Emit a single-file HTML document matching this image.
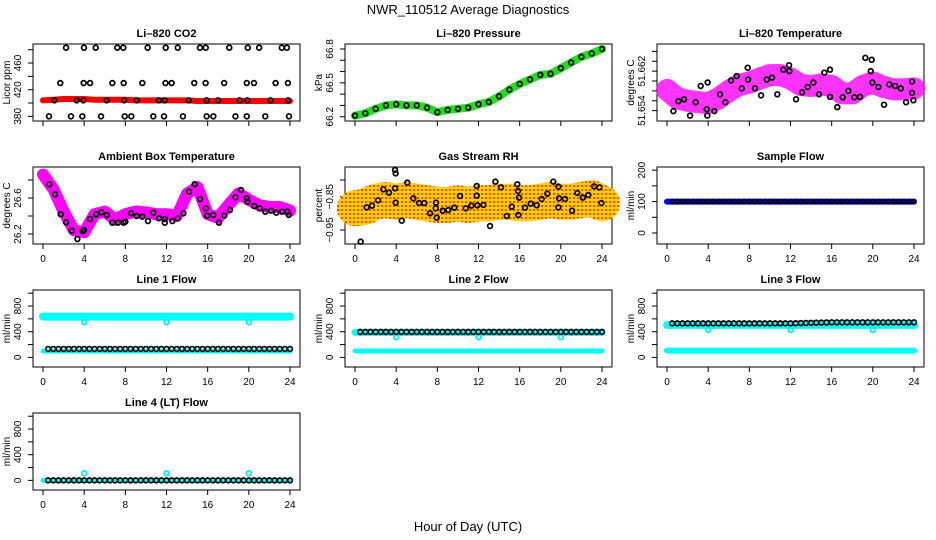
<!DOCTYPE html>
<html><head><meta charset="utf-8"><style>
html,body{margin:0;padding:0;background:#fff;}
svg{display:block;font-family:"Liberation Sans",Arial,sans-serif;}
</style></head><body>
<svg id="fig" width="936" height="540" viewBox="0 0 936 540" xmlns="http://www.w3.org/2000/svg">
<defs>
<pattern id="rhpat" width="4" height="4" patternUnits="userSpaceOnUse">
<rect width="4" height="4" fill="#ffd000"/><circle cx="2" cy="2" r="1" fill="#ee2200"/></pattern>
<clipPath id="row1clip"><rect x="0" y="0" width="936" height="132"/></clipPath>
</defs>
<text x="468" y="14" text-anchor="middle" font-size="13">NWR_110512  Average Diagnostics</text>
<text x="468" y="531" text-anchor="middle" font-size="13">Hour of Day (UTC)</text>
</svg>
<script>
// ---------- data ----------
const bandHours=[0,1,2,3,4,5,6,7,8,9,10,11,12,13,14,15,16,17,18,19,20,21,22,23,24];
const xTicks=[0,4,8,12,16,20,24];

const co2Hours=[2.24,3.98,5.12,7.22,7.80,10.17,11.92,13.09,15.25,15.81,18.1,19.9,21.0,23.2,23.7,
1.68,3.95,4.57,6.74,7.84,9.65,11.9,12.5,14.7,15.8,17.6,19.8,20.5,22.6,23.8,
1.1,3.27,3.92,6.19,7.87,9.1,11.25,11.83,14.16,15.9,17.0,19.1,19.85,22.1,23.8,
0.58,2.72,3.82,5.64,7.94,8.58,10.72,11.76,13.6,15.9,16.55,18.7,19.8,21.6,23.9];
const co2Vals=[483,483,483,483,483,483,483,483,483,483,483,483,483,483,483,
430,430,430,430,430,430,430,430,430,430,430,430,430,430,430,
404,404,404,404,404,404,404,404,404,404,404,404,404,404,404,
380,380,380,380,380,380,380,380,380,380,380,380,380,380,380];
const co2Band=[404,405,406,406,406,405,405,405,405,404,404,404,404,404,404,403,403,403,403,403,403,403,403,403,403];

const presBand=[66.21,66.23,66.27,66.30,66.31,66.30,66.30,66.28,66.24,66.26,66.27,66.28,66.31,66.33,66.38,66.44,66.49,66.53,66.57,66.58,66.63,66.68,66.73,66.76,66.80];

const tempBand=[51.6582,51.6565,51.6560,51.6557,51.6555,51.6565,51.6580,51.6592,51.6597,51.6605,51.6612,51.6612,51.6605,51.6592,51.6590,51.6593,51.6590,51.6575,51.6575,51.6590,51.6597,51.6588,51.6583,51.6583,51.6585];
const tempHours=[0.62,1.10,1.65,2.24,2.79,3.27,3.86,3.92,3.95,4.6,5.15,5.67,6.22,6.77,7.26,7.84,7.87,8.55,9.14,9.69,10.2,10.72,11.3,11.86,11.89,12.54,13.12,13.67,14.22,14.77,15.29,15.84,15.84,16.55,17.07,17.62,18.2,18.76,19.27,19.89,19.8,19.95,20.53,21.09,21.6,22.16,22.71,23.23,23.81,23.81,23.94];
const tempVals=[51.6539,51.6559,51.6563,51.6530,51.6557,51.6590,51.6543,51.6530,51.6597,51.6539,51.6573,51.6557,51.6601,51.6610,51.6585,51.6627,51.6603,51.6585,51.6571,51.6603,51.6607,51.6573,51.6623,51.6632,51.6620,51.6563,51.6577,51.6588,51.6597,51.6573,51.6617,51.6623,51.6568,51.6547,51.6567,51.6580,51.6567,51.6568,51.6647,51.6643,51.6620,51.6597,51.6588,51.6552,51.6593,51.6590,51.6585,51.6557,51.6599,51.6576,51.6561];

const ambBand=[26.86,26.70,26.45,26.24,26.22,26.42,26.45,26.36,26.42,26.45,26.44,26.42,26.42,26.40,26.65,26.72,26.42,26.38,26.52,26.65,26.58,26.52,26.50,26.50,26.46];
const ambHours=[0.61,1.17,1.72,2.24,2.79,3.34,3.85,3.98,4.57,5.15,5.67,6.19,6.74,7.29,7.84,8.0,8.55,9.1,9.65,10.2,10.72,11.27,11.83,11.83,12.57,13.09,13.64,14.19,14.74,15.26,15.81,15.94,16.55,17.1,17.62,18.17,18.69,19.24,19.8,19.86,20.5,21.06,21.6,22.16,22.67,23.23,23.74,23.88];
const ambVals=[26.752,26.641,26.419,26.330,26.237,26.144,26.233,26.244,26.367,26.419,26.441,26.411,26.326,26.326,26.326,26.337,26.430,26.400,26.393,26.344,26.437,26.374,26.367,26.326,26.344,26.374,26.430,26.670,26.752,26.589,26.485,26.404,26.411,26.326,26.404,26.467,26.607,26.689,26.596,26.559,26.511,26.485,26.448,26.459,26.437,26.448,26.448,26.411];

const rhBand=[-0.885,-0.88,-0.865,-0.86,-0.865,-0.86,-0.865,-0.87,-0.875,-0.875,-0.87,-0.875,-0.87,-0.87,-0.865,-0.865,-0.87,-0.87,-0.865,-0.86,-0.865,-0.865,-0.86,-0.855,-0.87];
const rhHours=[0.55,1.13,1.65,2.24,2.75,3.3,3.89,3.89,3.95,3.95,4.54,5.08,5.67,6.22,6.74,7.29,7.84,7.87,7.94,8.52,9.07,9.65,10.2,10.76,11.3,11.83,11.83,11.89,12.47,13.12,13.64,14.19,14.74,15.23,15.77,15.84,15.94,15.87,16.52,17.07,17.66,18.14,18.69,19.27,19.76,19.83,19.76,20.41,21.09,21.6,22.13,22.67,23.23,23.74,23.94];
const rhVals=[-0.985,-0.882,-0.877,-0.861,-0.828,-0.838,-0.825,-0.770,-0.780,-0.868,-0.922,-0.808,-0.855,-0.869,-0.869,-0.900,-0.885,-0.868,-0.913,-0.892,-0.890,-0.883,-0.848,-0.885,-0.877,-0.818,-0.847,-0.876,-0.875,-0.938,-0.805,-0.822,-0.908,-0.880,-0.813,-0.833,-0.853,-0.905,-0.883,-0.871,-0.876,-0.857,-0.841,-0.805,-0.882,-0.855,-0.820,-0.857,-0.892,-0.839,-0.853,-0.845,-0.819,-0.822,-0.869];

const flowHours=[0.5,1,1.5,2,2.5,3,3.5,4,4.5,5,5.5,6,6.5,7,7.5,8,8.5,9,9.5,10,10.5,11,11.5,12,12.5,13,13.5,14,14.5,15,15.5,16,16.5,17,17.5,18,18.5,19,19.5,20,20.5,21,21.5,22,22.5,23,23.5,24];
const sampleBlack=[100,100,100,100,100,100,100,100,100,100,100,100,100,100,100,100,100,100,100,100,100,100,100,100,100,100,100,100,100,100,100,100,100,100,100,100,100,100,100,100,100,100,100,100,100,100,100,100];
const sampleBand=[100,100,100,100,100,100,100,100,100,100,100,100,100,100,100,100,100,100,100,100,100,100,100,100,100];
const line1Black=[131,131,131,131,131,131,131,131,131,131,131,131,131,131,131,131,131,131,131,131,131,131,131,131,131,131,131,131,131,131,131,131,131,131,131,131,131,131,131,131,131,131,131,131,131,131,131,131];
const line1High=[636,636,636,636,636,636,636,636,636,636,636,636,636,636,636,636,636,636,636,636,636,636,636,636,636];
const line1Low=[100,100,100,100,100,100,100,100,100,100,100,100,100,100,100,100,100,100,100,100,100,100,100,100,100];
const line2Black=[397,397,397,397,397,397,397,397,397,397,397,397,397,397,397,397,397,397,397,397,397,397,397,397,397,397,397,397,397,397,397,397,397,397,397,397,397,397,397,397,397,397,397,397,397,397,397,397];
const line2High=[390,390,390,390,390,390,390,390,390,390,390,390,390,390,390,390,390,390,390,390,390,390,390,390,390];
const line2Low=[100,100,100,100,100,100,100,100,100,100,100,100,100,100,100,100,100,100,100,100,100,100,100,100,100];
const line3Black=[530,530,530,530,530,530,530,530,530,530,530,530,530,530,530,530,530,530,530,530,530,530,530,530,532,534,536,538,540,542,544,546,546,546,546,546,546,546,546,546,546,546,546,546,546,546,546,546];
const line3High=[506,506,506,506,506,506,506,506,506,506,506,506,506,506,506,506,506,506,506,506,506,506,506,506,506];
const line3Low=[105,105,105,105,105,105,105,105,105,105,105,105,105,105,105,105,105,105,105,105,105,105,105,105,105];
const line4Black=[0,0,0,0,0,0,0,0,0,0,0,0,0,0,0,0,0,0,0,0,0,0,0,0,0,0,0,0,0,0,0,0,0,0,0,0,0,0,0,0,0,0,0,0,0,0,0,0];
const line4Band=[0,0,0,0,0,0,0,0,0,0,0,0,0,0,0,0,0,0,0,0,0,0,0,0,0];
const dipHours=[4,12,20];
const line1Dips=[548,548,548];
const line2Dips=[314,314,314];
const line3Dips=[428,428,428];
const line4Spikes=[111,111,111];

// ---------- layout ----------
const NS="http://www.w3.org/2000/svg";
const svg=document.getElementById('fig');
const colX=[0,312,624], rowY=[44,167,290,413], BH=77;
function el(tag,attrs,parent){const e=document.createElementNS(NS,tag);for(const k in attrs)e.setAttribute(k,attrs[k]);(parent||svg).appendChild(e);return e;}

function makePanel(p){
  const g=el('g',{});
  
  
  const L=colX[p.col]+33,R=colX[p.col]+300,T=rowY[p.row],B=T+BH;
  p.xs=h=>colX[p.col]+43+h*247/24;
  p.ys=v=>T+(p.ylim[1]-v)/(p.ylim[1]-p.ylim[0])*BH;
  p.g=g;
  const t=el('text',{x:(L+R)/2,y:T-7,'text-anchor':'middle','font-size':11,'font-weight':'bold'},g);
  t.textContent=p.title;
  
  
  const box=el('rect',{x:L,y:T,width:R-L,height:BH,fill:'none',stroke:'#000','stroke-width':1},g);
  
  
  const xa=el('g',{},g);
  
  
  if(p.row===0) xa.setAttribute('clip-path','url(#row1clip)');
  el('line',{x1:p.xs(0),x2:p.xs(24),y1:B,y2:B,stroke:'#000'},xa);
  xTicks.forEach(h=>{
    el('line',{x1:p.xs(h),x2:p.xs(h),y1:B,y2:B+5,stroke:'#000'},xa);
    const tl=el('text',{x:p.xs(h),y:B+18,'text-anchor':'middle','font-size':10},xa);
    tl.textContent=h;
    
    
  });
  const ya=el('g',{},g);
  
  
  el('line',{x1:L,x2:L,y1:p.ys(p.ticks[0]),y2:p.ys(p.ticks[p.ticks.length-1]),stroke:'#000'},ya);
  p.ticks.forEach(v=>el('line',{x1:L-5,x2:L,y1:p.ys(v),y2:p.ys(v),stroke:'#000'},ya));
  p.labels.forEach((s,i)=>{
    const yy=p.ys(p.labelVals[i]),xx=colX[p.col]+21;
    const tl=el('text',{x:xx,y:yy,'text-anchor':'middle','font-size':10,transform:`rotate(-90 ${xx} ${yy})`},ya);
    tl.textContent=s;
    
    
  });
  const yx=colX[p.col]+10,yy=(T+B)/2;
  const yt=el('text',{x:yx,y:yy,'text-anchor':'middle','font-size':10,transform:`rotate(-90 ${yx} ${yy})`},g);
  yt.textContent=p.ylab;
  
  
  return p;
}
function band(p,hours,vals,color,w,name,op){
  const pts=hours.map((h,i)=>p.xs(h).toFixed(1)+','+p.ys(vals[i]).toFixed(1)).join(' ');
  const pl=el('polyline',{points:pts,fill:'none',stroke:color,'stroke-width':w,'stroke-linecap':'round','stroke-linejoin':'round',opacity:op||1},p.g);
  
  
}
function points(p,hours,vals,color,name,r){
  hours.forEach((h,i)=>{
    const c=el('circle',{cx:p.xs(h),cy:p.ys(vals[i]),r:r||2.4,fill:'none',stroke:color,'stroke-width':1.7},p.g);
    
    
  });
}

const flowTicks=[0,200,400,600,800,1000], flowLab=['0','400','800'], flowLabV=[0,400,800], flowLim=[-150,1050];

const co2=makePanel({name:'co2-panel',title:'Li\u2013820 CO2',ylab:'Licor ppm',col:0,row:0,ylim:[373,488.6],ticks:[380,400,420,440,460,480],labels:['380','420','460'],labelVals:[380,420,460]});
band(co2,bandHours,co2Band,'#ff0000',6,'co2-band');
points(co2,co2Hours,co2Vals,'#000','co2-point');

const pres=makePanel({name:'pressure-panel',title:'Li\u2013820 Pressure',ylab:'kPa',col:1,row:0,ylim:[66.162,66.844],ticks:[66.2,66.3,66.4,66.5,66.6,66.7,66.8],labels:['66.2','66.5','66.8'],labelVals:[66.2,66.5,66.8]});
band(pres,bandHours,presBand,'#22dd22',8,'pressure-band');
points(pres,bandHours,presBand,'#000','pressure-point');

const temp=makePanel({name:'li820-temp-panel',title:'Li\u2013820 Temperature',ylab:'degrees C',col:2,row:0,ylim:[51.6519,51.6675],ticks:[51.654,51.656,51.658,51.66,51.662,51.664,51.666],labels:['51.654','51.662'],labelVals:[51.654,51.662]});
band(temp,bandHours,tempBand,'#ff00ff',22,'li820-temp-cloud',0.8);
points(temp,tempHours,tempVals,'#000','li820-temp-point');

const amb=makePanel({name:'ambient-temp-panel',title:'Ambient Box Temperature',ylab:'degrees C',col:0,row:1,ylim:[26.089,26.944],ticks:[26.2,26.4,26.6,26.8],labels:['26.2','26.6'],labelVals:[26.2,26.6]});
band(amb,bandHours,ambBand,'#ff00ff',12,'ambient-temp-cloud');
points(amb,ambHours,ambVals,'#000','ambient-temp-point');

const rh=makePanel({name:'gas-rh-panel',title:'Gas Stream RH',ylab:'percent',col:1,row:1,ylim:[-0.992,-0.761],ticks:[-0.95,-0.9,-0.85,-0.8],labels:['\u22120.95','\u22120.85'],labelVals:[-0.95,-0.85]});
band(rh,bandHours,rhBand,'url(#rhpat)',36,'gas-rh-cloud');
points(rh,rhHours,rhVals,'#000','gas-rh-point');

const sf=makePanel({name:'sample-flow-panel',title:'Sample Flow',ylab:'ml/min',col:2,row:1,ylim:[-35,210],ticks:[0,50,100,150,200],labels:['0','100','200'],labelVals:[0,100,200]});
band(sf,bandHours,sampleBand,'#0000ff',6,'sample-flow-band');
points(sf,flowHours,sampleBlack,'#000','sample-flow-point',2);

const l1=makePanel({name:'line1-flow-panel',title:'Line 1 Flow',ylab:'ml/min',col:0,row:2,ylim:flowLim,ticks:flowTicks,labels:flowLab,labelVals:flowLabV});
band(l1,bandHours,line1High,'#00ffff',8,'line1-high-band');
band(l1,bandHours,line1Low,'#00ffff',5,'line1-low-band');
points(l1,dipHours,line1Dips,'#00eeee','line1-dip');
points(l1,flowHours,line1Black,'#000','line1-point');

const l2=makePanel({name:'line2-flow-panel',title:'Line 2 Flow',ylab:'ml/min',col:1,row:2,ylim:flowLim,ticks:flowTicks,labels:flowLab,labelVals:flowLabV});
band(l2,bandHours,line2High,'#00ffff',7,'line2-high-band');
band(l2,bandHours,line2Low,'#00ffff',5,'line2-low-band');
points(l2,dipHours,line2Dips,'#00eeee','line2-dip');
points(l2,flowHours,line2Black,'#000','line2-point');

const l3=makePanel({name:'line3-flow-panel',title:'Line 3 Flow',ylab:'ml/min',col:2,row:2,ylim:flowLim,ticks:flowTicks,labels:flowLab,labelVals:flowLabV});
band(l3,bandHours,line3High,'#00ffff',8,'line3-high-band');
band(l3,bandHours,line3Low,'#00ffff',6,'line3-low-band');
points(l3,dipHours,line3Dips,'#00eeee','line3-dip');
points(l3,flowHours,line3Black,'#000','line3-point');

const l4=makePanel({name:'line4-flow-panel',title:'Line 4 (LT) Flow',ylab:'ml/min',col:0,row:3,ylim:flowLim,ticks:flowTicks,labels:flowLab,labelVals:flowLabV});
band(l4,bandHours,line4Band,'#00ffff',5,'line4-band');
points(l4,dipHours,line4Spikes,'#00eeee','line4-spike');
points(l4,flowHours,line4Black,'#000','line4-point');
</script>
</body></html>
